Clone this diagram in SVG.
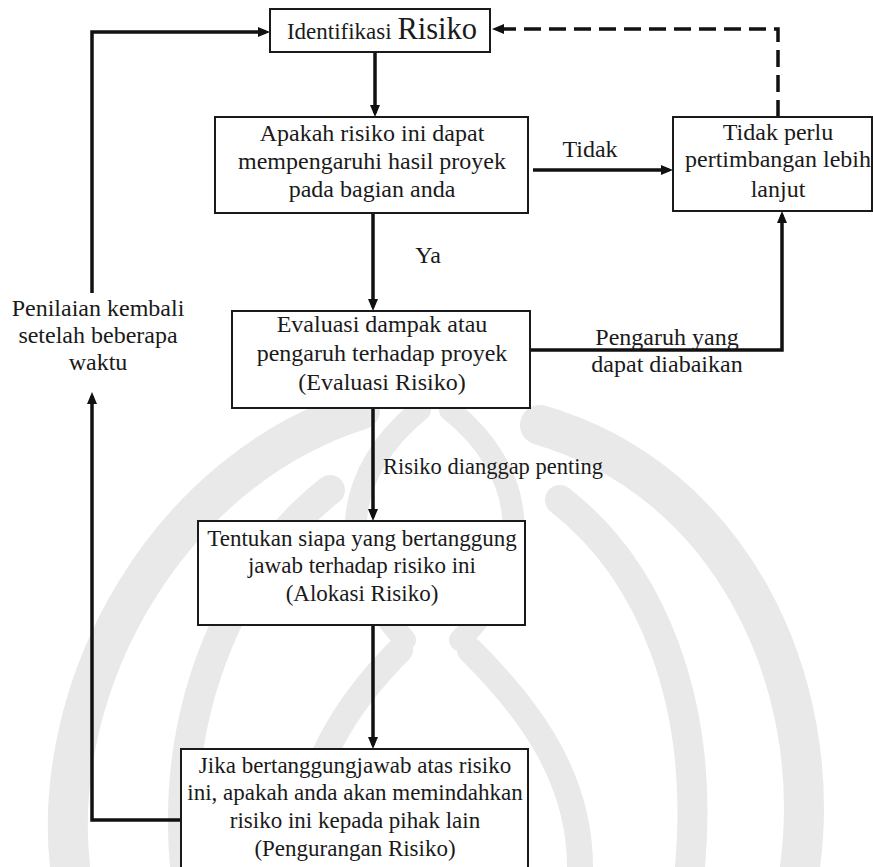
<svg xmlns="http://www.w3.org/2000/svg" width="873" height="867" viewBox="0 0 873 867">
<style>
  .box { fill: #ffffff; stroke: #1a1a1a; stroke-width: 2; }
  .t { font-family: 'Liberation Serif', 'Times New Roman', serif; font-size: 24px; fill: #1a1a1a; text-anchor: middle; }
  .s { font-size: 23px; }
  .lbl { font-family: 'Liberation Serif', 'Times New Roman', serif; font-size: 22.5px; fill: #1a1a1a; }
  .c { fill: none; stroke: #111111; stroke-width: 3.5; }
  .dash { fill: none; stroke: #111111; stroke-width: 3.5; stroke-dasharray: 17 8; }
  .wm { fill: none; stroke: #e9e9e9; stroke-linecap: round; }
</style>
<defs>
  <marker id="ah" viewBox="0 0 12 10" refX="8" refY="5" markerWidth="12" markerHeight="10" markerUnits="userSpaceOnUse" orient="auto">
    <path d="M0,0 L12,5 L0,10 z" fill="#111111"/>
  </marker>
</defs>
<rect width="873" height="867" fill="#ffffff"/>
<g id="watermark">
  <path class="wm" stroke-width="40" d="M70 867 C 50 680, 170 470, 360 410"/>
  <path class="wm" stroke-width="40" d="M800 867 C 825 680, 730 480, 540 425"/>
  <path class="wm" stroke-width="30" d="M185 867 C 170 700, 240 560, 330 490"/>
  <path class="wm" stroke-width="30" d="M690 867 C 705 700, 650 570, 560 500"/>
  <path class="wm" stroke-width="26" d="M300 867 C 300 770, 350 700, 400 650"/>
  <path class="wm" stroke-width="26" d="M580 867 C 580 770, 520 700, 470 650"/>
  <path class="wm" stroke-width="22" d="M405 640 C 330 560, 345 470, 420 410"/>
  <path class="wm" stroke-width="22" d="M460 640 C 540 560, 525 470, 450 410"/>
</g>
<g id="connectors">
  <path class="c" d="M375 52 V113" marker-end="url(#ah)"/>
  <path class="c" d="M373 213 V307" marker-end="url(#ah)"/>
  <path class="c" d="M373 408 V517" marker-end="url(#ah)"/>
  <path class="c" d="M373 625 V745" marker-end="url(#ah)"/>
  <path class="c" d="M533 170 H669" marker-end="url(#ah)"/>
  <path class="c" d="M530 350 H782 V215" marker-end="url(#ah)"/>
  <path class="dash" d="M778 117 V29 H496" marker-end="url(#ah)"/>
  <path class="c" d="M181 820 H92 V396" marker-end="url(#ah)"/>
  <path class="c" d="M92 293 V32 H266" marker-end="url(#ah)"/>
</g>
<g id="n1">
  <rect class="box" x="270" y="9" width="220" height="43"/>
  <text class="t s" x="382" y="39">Identifikasi <tspan font-size="30.5">Risiko</tspan></text>
</g>
<g id="n2">
  <rect class="box" x="215" y="117" width="313" height="96"/>
  <text class="t" x="372" y="141">Apakah risiko ini dapat</text>
  <text class="t" x="372" y="169">mempengaruhi hasil proyek</text>
  <text class="t" x="372" y="197">pada bagian anda</text>
</g>
<g id="n3">
  <rect class="box" x="673" y="117" width="199" height="94"/>
  <text class="t" x="778" y="140">Tidak perlu</text>
  <text class="t" x="778" y="167">pertimbangan lebih</text>
  <text class="t" x="778" y="197">lanjut</text>
</g>
<g id="n4">
  <rect class="box" x="232" y="311" width="298" height="97"/>
  <text class="t" x="382" y="332">Evaluasi dampak atau</text>
  <text class="t" x="382" y="361">pengaruh terhadap proyek</text>
  <text class="t" x="382" y="390">(Evaluasi Risiko)</text>
</g>
<g id="n5">
  <rect class="box" x="198" y="521" width="327" height="104"/>
  <text class="t s" x="362" y="546">Tentukan siapa yang bertanggung</text>
  <text class="t s" x="362" y="573">jawab terhadap risiko ini</text>
  <text class="t s" x="362" y="601">(Alokasi Risiko)</text>
</g>
<g id="n6">
  <rect class="box" x="181" y="749" width="347" height="130"/>
  <text class="t s" x="355" y="773">Jika bertanggungjawab atas risiko</text>
  <text class="t s" x="355" y="800">ini, apakah anda akan memindahkan</text>
  <text class="t s" x="355" y="828">risiko ini kepada pihak lain</text>
  <text class="t s" x="355" y="856">(Pengurangan Risiko)</text>
</g>
<g id="labels">
  <text class="t" x="590" y="157">Tidak</text>
  <text class="t" x="428" y="263">Ya</text>
  <text class="t" x="667" y="345">Pengaruh yang</text>
  <text class="t" x="667" y="372">dapat diabaikan</text>
  <text class="t" x="98" y="316">Penilaian kembali</text>
  <text class="t" x="98" y="343">setelah beberapa</text>
  <text class="t" x="98" y="370">waktu</text>
  <text class="lbl" x="383" y="474">Risiko dianggap penting</text>
</g>
</svg>
